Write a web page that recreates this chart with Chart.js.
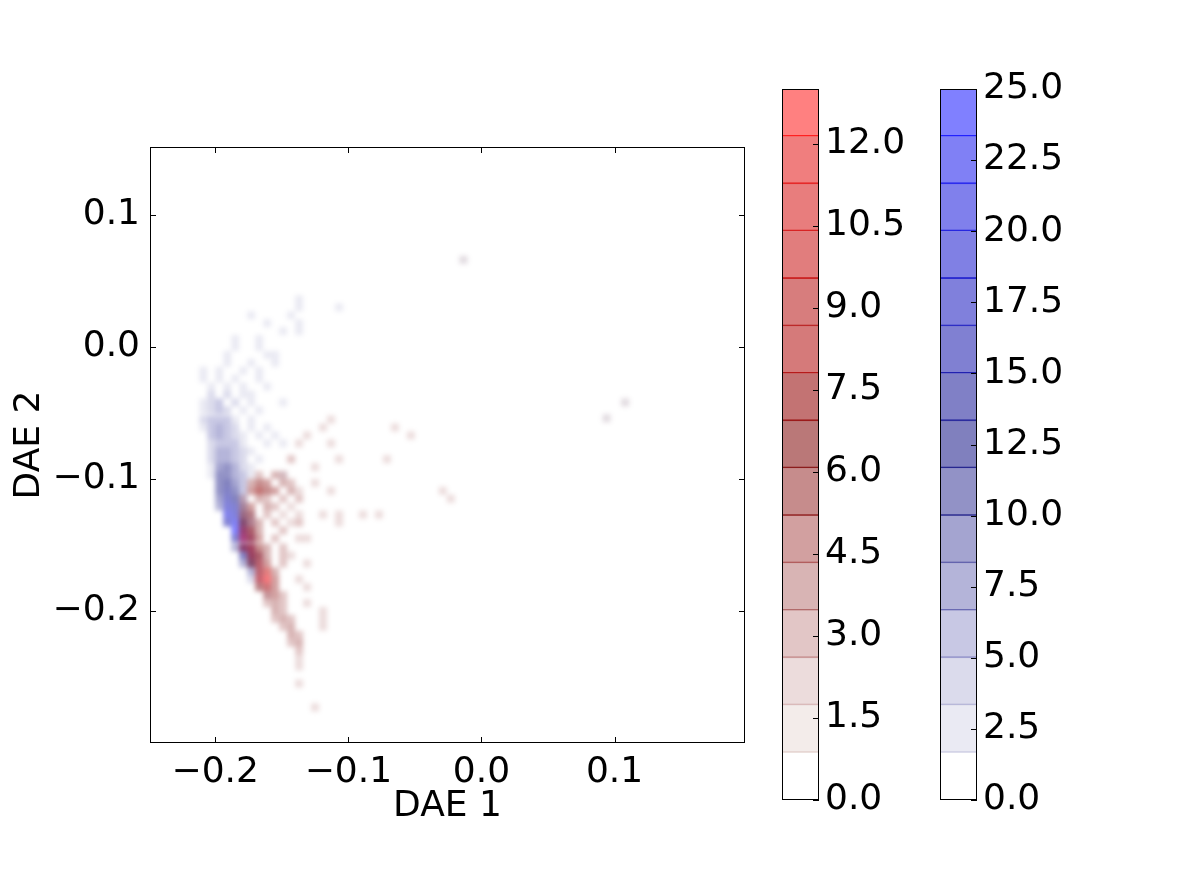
<!DOCTYPE html>
<html><head><meta charset="utf-8">
<script src="https://cdn.jsdelivr.net/npm/chart.js@4.4.1/dist/chart.umd.min.js"></script>
<style>
html,body{margin:0;padding:0;background:#fff;width:1200px;height:890px;overflow:hidden;position:relative}
canvas{position:absolute}
#heat{left:0;top:0;filter:blur(2.8px);-webkit-filter:blur(2.8px)}
#main{left:0;top:0}
#cbRed{left:780px;top:60px}
#cbBlue{left:938px;top:60px}
</style></head><body>
<canvas id="heat" width="780" height="890"></canvas>
<canvas id="main" width="780" height="890"></canvas>
<canvas id="cbRed" width="140" height="770"></canvas>
<canvas id="cbBlue" width="140" height="770"></canvas>
<script>
// ---------------- data ----------------
const xTicks = [-0.2, -0.1, 0.0, 0.1];
const yTicks = [-0.2, -0.1, 0.0, 0.1];
const xMin = -0.249, xMax = 0.198;
const yMin = -0.300, yMax = 0.1515;
const binW = 0.006;

const redMax = 13, blueMax = 25;
const redTicks = [0, 1.5, 3.0, 4.5, 6.0, 7.5, 9.0, 10.5, 12.0];
const blueTicks = [0, 2.5, 5.0, 7.5, 10.0, 12.5, 15.0, 17.5, 20.0, 22.5, 25.0];

// [x, y, count]
const blueCells = [
  [-0.137,0.036,2],
  [-0.107,0.030,2],[-0.137,0.030,2],
  [-0.173,0.024,2],[-0.143,0.024,1.8],
  [-0.161,0.018,2],[-0.137,0.018,2],
  [-0.137,0.012,2],[-0.149,0.012,2],
  [-0.185,0.006,2],[-0.167,0.006,2.5],
  [-0.185,0.000,2],[-0.167,0.000,2],
  [-0.191,-0.006,2],[-0.161,-0.006,2],[-0.155,-0.006,2.5],
  [-0.191,-0.012,2],[-0.173,-0.012,2],[-0.155,-0.012,2],
  [-0.209,-0.018,2],[-0.197,-0.018,2.5],[-0.179,-0.018,2],[-0.167,-0.018,2],
  [-0.209,-0.024,2.5],[-0.197,-0.024,2],[-0.185,-0.024,3],[-0.167,-0.024,2.5],
  [-0.203,-0.030,3],[-0.191,-0.030,3],[-0.179,-0.030,2.5],[-0.161,-0.030,2],
  [-0.203,-0.036,3.5],[-0.191,-0.036,4],[-0.179,-0.036,3],[-0.173,-0.036,2],
  [-0.209,-0.042,3],[-0.203,-0.042,4],[-0.197,-0.042,5],[-0.185,-0.042,3.5],[-0.173,-0.042,2.5],[-0.149,-0.042,2],
  [-0.209,-0.048,3],[-0.203,-0.048,4.5],[-0.197,-0.048,5],[-0.191,-0.048,4],[-0.179,-0.048,3],[-0.167,-0.048,2],
  [-0.209,-0.055,3.5],[-0.203,-0.055,5],[-0.197,-0.055,6],[-0.191,-0.055,5],[-0.185,-0.055,3],[-0.173,-0.055,2.5],
  [-0.209,-0.061,3],[-0.203,-0.061,5],[-0.197,-0.061,7],[-0.191,-0.061,6],[-0.185,-0.061,4],[-0.173,-0.061,2.5],[-0.161,-0.061,2],
  [-0.203,-0.067,5],[-0.197,-0.067,7],[-0.191,-0.067,6],[-0.185,-0.067,4],[-0.179,-0.067,3],[-0.167,-0.067,2],[-0.155,-0.067,2],
  [-0.203,-0.073,4],[-0.197,-0.073,6],[-0.191,-0.073,6],[-0.185,-0.073,5],[-0.179,-0.073,3],[-0.161,-0.073,2.5],[-0.149,-0.073,2],
  [-0.203,-0.079,4],[-0.197,-0.079,7],[-0.191,-0.079,7],[-0.185,-0.079,5],[-0.179,-0.079,4],[-0.173,-0.079,3],
  [-0.203,-0.085,3.5],[-0.197,-0.085,8],[-0.191,-0.085,8],[-0.185,-0.085,6],[-0.179,-0.085,4],[-0.167,-0.085,2.5],
  [-0.203,-0.091,3],[-0.197,-0.091,9],[-0.191,-0.091,10],[-0.185,-0.091,7],[-0.179,-0.091,4],[-0.173,-0.091,3],
  [-0.203,-0.097,2.5],[-0.197,-0.097,10],[-0.191,-0.097,11],[-0.185,-0.097,8],[-0.179,-0.097,5],[-0.173,-0.097,3],[-0.149,-0.097,2],
  [-0.197,-0.103,11],[-0.191,-0.103,13],[-0.185,-0.103,9],[-0.179,-0.103,5],
  [-0.197,-0.109,11],[-0.191,-0.109,14],[-0.185,-0.109,11],[-0.179,-0.109,6],
  [-0.197,-0.115,9],[-0.191,-0.115,16],[-0.185,-0.115,13],[-0.179,-0.115,6],
  [-0.197,-0.121,7],[-0.191,-0.121,18],[-0.185,-0.121,15],[-0.179,-0.121,7],
  [-0.191,-0.127,20],[-0.185,-0.127,18],[-0.179,-0.127,9],[-0.173,-0.127,4],
  [-0.191,-0.133,15],[-0.185,-0.133,22],[-0.179,-0.133,14],[-0.173,-0.133,5],
  [-0.185,-0.139,24],[-0.179,-0.139,20],[-0.173,-0.139,6],
  [-0.185,-0.145,15],[-0.179,-0.145,25],[-0.173,-0.145,10],
  [-0.185,-0.152,8],[-0.179,-0.152,21],[-0.173,-0.152,12],
  [-0.179,-0.158,14],[-0.173,-0.158,14],[-0.167,-0.158,5],
  [-0.179,-0.164,8],[-0.173,-0.164,12],[-0.167,-0.164,6],
  [-0.173,-0.170,8],[-0.167,-0.170,6],
  [-0.173,-0.176,4],[-0.167,-0.176,5],[-0.161,-0.176,3],
  [-0.167,-0.182,3],[-0.161,-0.182,3],
  [-0.161,-0.188,2],
  [-0.0135,0.066,2],[0.094,-0.054,2],[0.108,-0.042,2]
];

const redCells = [
  [-0.113,-0.055,2],[-0.119,-0.061,2],[-0.131,-0.067,2],[-0.113,-0.073,2],[-0.107,-0.085,2],
  [-0.065,-0.061,2],[-0.053,-0.067,2],[-0.071,-0.085,2],[-0.125,-0.091,2],[-0.125,-0.103,2],
  [-0.113,-0.109,2],[-0.029,-0.109,2],[-0.023,-0.115,2],[-0.119,-0.127,2],[-0.107,-0.127,2],
  [-0.089,-0.127,2],[-0.077,-0.127,2],[-0.137,-0.073,2],[-0.143,-0.085,3],[-0.131,-0.145,2.5],
  [-0.107,-0.133,2],[-0.149,-0.158,3],
  [-0.167,-0.097,3],[-0.155,-0.097,4],[-0.149,-0.097,3],
  [-0.173,-0.103,4],[-0.167,-0.103,6],[-0.161,-0.103,5],[-0.149,-0.103,4],[-0.143,-0.103,3],
  [-0.173,-0.109,5],[-0.167,-0.109,7],[-0.161,-0.109,6],[-0.155,-0.109,5],[-0.143,-0.109,4],[-0.137,-0.109,2],
  [-0.179,-0.115,3],[-0.167,-0.115,4],[-0.161,-0.115,3],[-0.149,-0.115,3],[-0.137,-0.115,3],
  [-0.179,-0.121,4],[-0.173,-0.121,5],[-0.161,-0.121,4],[-0.155,-0.121,3],[-0.143,-0.121,2.5],
  [-0.179,-0.127,5],[-0.173,-0.127,6],[-0.161,-0.127,3],[-0.149,-0.127,2.5],[-0.137,-0.127,2],
  [-0.179,-0.133,6],[-0.173,-0.133,5],[-0.167,-0.133,4],[-0.155,-0.133,3],[-0.143,-0.133,2.5],[-0.137,-0.133,3],
  [-0.179,-0.139,8],[-0.173,-0.139,7],[-0.167,-0.139,4],[-0.149,-0.139,3],
  [-0.179,-0.145,11],[-0.173,-0.145,9],[-0.167,-0.145,5],[-0.155,-0.145,3],[-0.137,-0.145,2.5],
  [-0.179,-0.152,7],[-0.173,-0.152,10],[-0.167,-0.152,6],[-0.161,-0.152,4],[-0.149,-0.152,3],
  [-0.173,-0.158,8],[-0.167,-0.158,7],[-0.161,-0.158,4],[-0.143,-0.158,2.5],
  [-0.173,-0.164,6],[-0.167,-0.164,8],[-0.161,-0.164,5],[-0.149,-0.164,3],[-0.131,-0.164,2.5],
  [-0.167,-0.170,9],[-0.161,-0.170,10],[-0.155,-0.170,4],
  [-0.167,-0.176,10],[-0.161,-0.176,13],[-0.155,-0.176,5],[-0.137,-0.176,2.5],
  [-0.167,-0.182,6],[-0.161,-0.182,9],[-0.155,-0.182,5],[-0.131,-0.182,2],
  [-0.161,-0.188,5],[-0.155,-0.188,5],[-0.149,-0.188,3],
  [-0.161,-0.194,3],[-0.155,-0.194,4],[-0.149,-0.194,3],[-0.131,-0.194,2.5],
  [-0.155,-0.200,4],[-0.149,-0.200,3],[-0.119,-0.200,2.5],
  [-0.155,-0.206,3],[-0.149,-0.206,4],[-0.143,-0.206,3],[-0.119,-0.206,2],
  [-0.149,-0.212,3],[-0.143,-0.212,4],[-0.119,-0.212,2],
  [-0.143,-0.218,4],[-0.137,-0.218,3],
  [-0.143,-0.224,3],[-0.137,-0.224,4],
  [-0.137,-0.230,3],
  [-0.137,-0.236,2],
  [-0.137,-0.242,2],
  [-0.137,-0.255,2],
  [-0.125,-0.273,2],
  [-0.0135,0.066,1],[0.094,-0.054,1.5],[0.108,-0.042,1.5]
];

// ---------------- styles ----------------
const FONT = "'DejaVu Sans', sans-serif";
Chart.defaults.font.family = FONT;
Chart.defaults.color = '#000';

const redBandHex = ['#ffffff','#f3ecea','#ecdcdc','#e2c6c6','#d8b4b4','#d2a0a0','#c68c8c','#ba7878',
                    '#c37373','#d57a7a','#d77d7d','#e17d7d','#e87d7d','#f07e7e','#ff8080'];
const blueBandHex = ['#ffffff','#eaeaf3','#dbdbec','#c8c8e4','#b4b4d9','#a4a4d0','#9292c6','#8080be',
                     '#8080c6','#8080d2','#8080dc','#8080e4','#8080ec','#8080f5','#8080ff'];

function parseHex(h){return [parseInt(h.slice(1,3),16),parseInt(h.slice(3,5),16),parseInt(h.slice(5,7),16)];}
function rgbaOverWhite(hex, alphaMul){
  const [r,g,b] = parseHex(hex);
  const m = Math.min(r,g,b);
  const a = 1 - m/255;
  if (a <= 0.001) return 'rgba(255,255,255,0)';
  const f = c => Math.max(0,Math.min(255,Math.round((c-m)/a)));
  return `rgba(${f(r)},${f(g)},${f(b)},${Math.min(1,a*(alphaMul||1)).toFixed(3)})`;
}
const redFill = redBandHex.map(h=>rgbaOverWhite(h));
const blueFill = blueBandHex.map(h=>rgbaOverWhite(h));
const redLine = redBandHex.map(h=>rgbaOverWhite(h,1.6));
const blueLine = blueBandHex.map(h=>rgbaOverWhite(h,1.6));

function bandIndex(v, vmax){ return Math.max(0, Math.min(14, Math.floor(v/(vmax/15)))); }

const fmt = v => (v < -1e-9 ? '\u2212' : '') + Math.abs(v).toFixed(1);

function cellRadius(ctx){
  const s = ctx.chart.scales.x;
  const side = Math.abs(s.getPixelForValue(binW) - s.getPixelForValue(0));
  return side / Math.SQRT2;
}

const mainDecor = {
  id:'mainDecor',
  afterDraw(chart){
    const {ctx, chartArea:{left,right,top,bottom}} = chart;
    const xs = chart.scales.x, ys = chart.scales.y;
    ctx.save();
    ctx.strokeStyle = '#000'; ctx.lineWidth = 1;
    ctx.beginPath();
    xs.ticks.forEach(t=>{
      const p = Math.round(xs.getPixelForValue(t.value)) + 0.5;
      ctx.moveTo(p,bottom); ctx.lineTo(p,bottom-6);
      ctx.moveTo(p,top); ctx.lineTo(p,top+6);
    });
    ys.ticks.forEach(t=>{
      const p = Math.round(ys.getPixelForValue(t.value)) + 0.5;
      ctx.moveTo(left,p); ctx.lineTo(left+6,p);
      ctx.moveTo(right,p); ctx.lineTo(right-6,p);
    });
    ctx.stroke();
    ctx.strokeRect(Math.round(left)+0.5, Math.round(top)+0.5, Math.round(right-left)-1, Math.round(bottom-top)-1);
    ctx.restore();
  }
};

function mainOptions(textColor){
  return {
    responsive:false, animation:false, events:[],
    layout:{padding:{top:147,right:35,left:0,bottom:0}},
    plugins:{legend:{display:false}, tooltip:{enabled:false}},
    elements:{point:{pointStyle:'rect', borderWidth:0, radius:cellRadius, hoverRadius:cellRadius}},
    scales:{
      x:{type:'linear', min:xMin, max:xMax,
         grid:{display:false, drawTicks:false}, border:{display:false},
         ticks:{font:{size:36}, padding:8, callback:fmt, maxRotation:0, autoSkip:false, color:textColor},
         afterBuildTicks: s=>{ s.ticks = xTicks.map(v=>({value:v})); },
         afterFit: s=>{ s.height = 147; },
         title:{display:true, text:'DAE 1', color:textColor, font:{size:36}, padding:{top:0,bottom:62}}},
      y:{type:'linear', min:yMin, max:yMax,
         grid:{display:false, drawTicks:false}, border:{display:false},
         ticks:{font:{size:36}, padding:10, callback:fmt, autoSkip:false, color:textColor},
         afterBuildTicks: s=>{ s.ticks = yTicks.map(v=>({value:v})); },
         afterFit: s=>{ s.width = 150; },
         title:{display:true, text:'DAE 2', color:textColor, font:{size:36}, padding:{top:8,bottom:0}}}
    }
  };
}

// density layer (softened like an interpolated image)
new Chart(document.getElementById('heat'), {
  type:'scatter',
  data:{datasets:[
    {label:'red', order:0, data: redCells.map(([x,y,v])=>({x,y,v})),
     backgroundColor: c => c.raw ? redFill[bandIndex(c.raw.v, redMax)] : 'transparent'},
    {label:'blue', order:1, data: blueCells.map(([x,y,v])=>({x,y,v})),
     backgroundColor: c => c.raw ? blueFill[bandIndex(c.raw.v, blueMax)] : 'transparent'}
  ]},
  options: mainOptions('rgba(0,0,0,0)')
});

// axes layer
new Chart(document.getElementById('main'), {
  type:'scatter',
  data:{datasets:[]},
  options: mainOptions('#000'),
  plugins:[mainDecor]
});

// ---------------- colorbars ----------------
const cbDecor = {
  id:'cbDecor',
  afterDraw(chart){
    const {ctx, chartArea:{left,right,top,bottom}} = chart;
    const ys = chart.scales.y;
    ctx.save();
    ctx.strokeStyle = '#000'; ctx.lineWidth = 1;
    ctx.beginPath();
    ys.ticks.forEach(t=>{
      const p = Math.round(ys.getPixelForValue(t.value)) + 0.5;
      ctx.moveTo(right,p); ctx.lineTo(right-6,p);
    });
    ctx.stroke();
    ctx.strokeRect(Math.round(left)+0.5, Math.round(top)+0.5, Math.round(right-left)-1, Math.round(bottom-top)-1);
    ctx.restore();
  }
};

function makeColorbar(id, fills, lines, vmax, ticks){
  const step = vmax/15;
  new Chart(document.getElementById(id), {
    type:'bar',
    data:{labels:[''], datasets: fills.map((f,i)=>({
      data:[[i*step,(i+1)*step]],
      backgroundColor:f,
      borderColor: i===0 ? 'rgba(0,0,0,0)' : lines[i],
      borderWidth:{top:0,right:0,bottom:i===0?0:1,left:0},
      borderSkipped:false,
      barPercentage:1, categoryPercentage:1, grouped:false
    }))},
    options:{
      responsive:false, animation:false, events:[],
      layout:{padding:{top:29,bottom:30,left:2,right:0}},
      plugins:{legend:{display:false}, tooltip:{enabled:false}},
      scales:{
        x:{display:false},
        y:{position:'right', min:0, max:vmax,
           grid:{display:false, drawTicks:false}, border:{display:false},
           ticks:{font:{size:36}, padding:6, callback:fmt, autoSkip:false},
           afterBuildTicks: s=>{ s.ticks = ticks.map(v=>({value:v})); },
           afterFit: s=>{ s.width = 101; }}
      }
    },
    plugins:[cbDecor]
  });
}
makeColorbar('cbRed', redFill, redLine, redMax, redTicks);
makeColorbar('cbBlue', blueFill, blueLine, blueMax, blueTicks);
</script>
</body></html>
